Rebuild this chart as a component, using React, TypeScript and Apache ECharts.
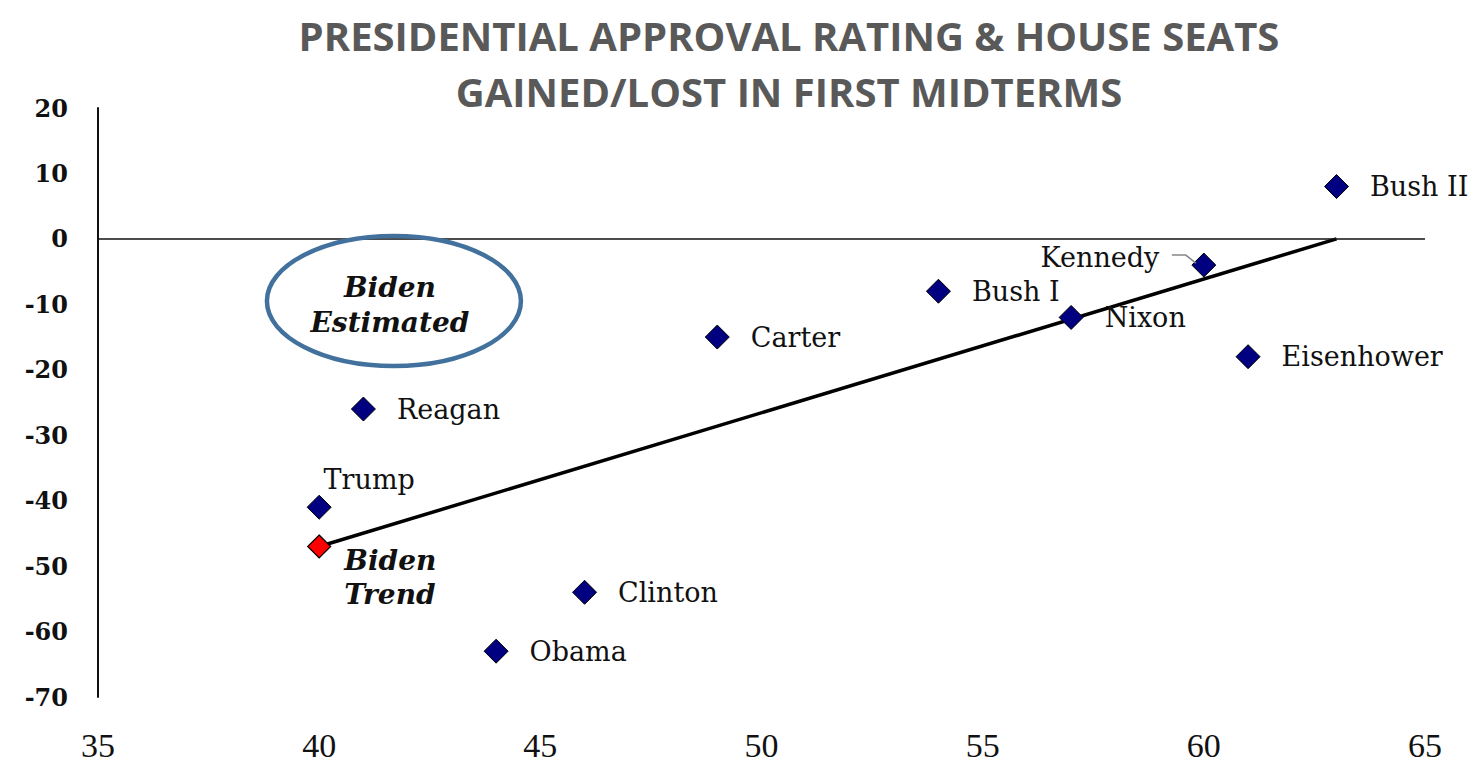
import React, { useEffect, useRef } from "react";
import * as echarts from "echarts";

const titleLines = ["PRESIDENTIAL APPROVAL RATING & HOUSE SEATS", "GAINED/LOST IN FIRST MIDTERMS"];
const presidents = ["Bush II", "Kennedy", "Bush I", "Nixon", "Carter", "Eisenhower", "Reagan", "Trump", "Clinton", "Obama"];
const approvalRating = [63, 60, 54, 57, 49, 61, 41, 40, 46, 44];
const seatsGainedLost = [8, -4, -8, -12, -15, -18, -26, -41, -54, -63];
const bidenTrendPoint = [40, -47];
const trendStart = [40, -47];
const trendEnd = [63, 0];
const bidenEstimatedCenter = [41.69, -9.5];
const xMin = 35, xMax = 65, xStep = 5;
const yMin = -70, yMax = 20, yStep = 10;

const LABEL_FONT = "'DejaVu Serif', Georgia, serif";

export default function App() {
  const ref = useRef<HTMLDivElement>(null);
  useEffect(() => {
    document.body.style.margin = "0";
    if (!ref.current) return;
    const chart = echarts.init(ref.current, null, { renderer: "svg" });
    const labelBase = {
      show: true,
      position: "right",
      distance: 21,
      color: "#111",
      fontFamily: LABEL_FONT,
      fontSize: 27,
      formatter: (p: any) => p.name,
    };
    const data = presidents.map((name, i) => {
      const item: any = { name, value: [approvalRating[i], seatsGainedLost[i]] };
      if (name === "Trump") {
        item.label = { position: "top", distance: 2, offset: [50, 0] };
      } else if (name === "Kennedy") {
        item.label = { position: "left", distance: 32, offset: [0, -8] };
      }
      return item;
    });
    chart.setOption({
      animation: false,
      backgroundColor: "#ffffff",
      title: {
        text: titleLines.join("\n"),
        left: 784,
        textAlign: "center",
        top: 2,
        textStyle: {
          fontFamily: "'Open Sans', sans-serif",
          fontWeight: "bold",
          fontSize: 40,
          lineHeight: 56,
          color: "#595959",
        },
      },
      grid: { left: 98, right: 50, top: 108, bottom: 67, containLabel: false },
      xAxis: {
        type: "value",
        min: xMin,
        max: xMax,
        interval: xStep,
        axisLine: { show: false },
        axisTick: { show: false },
        splitLine: { show: false },
        axisLabel: {
          color: "#111",
          fontFamily: "'Liberation Serif', 'Times New Roman', serif",
          fontSize: 34,
          margin: 31,
        },
      },
      yAxis: {
        type: "value",
        min: yMin,
        max: yMax,
        interval: yStep,
        axisLine: { show: true, onZero: false, lineStyle: { color: "#111", width: 2 } },
        axisTick: { show: false },
        splitLine: { show: false },
        axisLabel: {
          color: "#111",
          fontFamily: LABEL_FONT,
          fontWeight: "bold",
          fontSize: 24,
          margin: 30,
        },
      },
      series: [
        {
          type: "line",
          data: [trendStart, trendEnd],
          symbol: "none",
          lineStyle: { color: "#000", width: 3.5 },
          z: 3,
          markLine: {
            silent: true,
            symbol: "none",
            label: { show: false },
            lineStyle: { color: "#111", width: 1.5, type: "solid" },
            data: [{ yAxis: 0 }],
          },
        },
        {
          type: "scatter",
          symbol: "diamond",
          symbolSize: 24,
          itemStyle: { color: "#000080", borderColor: "#000", borderWidth: 1, opacity: 1 },
          label: labelBase,
          data,
          z: 4,
        },
        {
          type: "scatter",
          symbol: "diamond",
          symbolSize: 23,
          itemStyle: { color: "#ff0000", borderColor: "#000", borderWidth: 1.2, opacity: 1 },
          data: [{ name: "Biden\nTrend", value: bidenTrendPoint }],
          label: {
            show: true,
            position: "right",
            distance: 0,
            offset: [13, 31],
            formatter: "Biden\nTrend",
            color: "#111",
            fontFamily: LABEL_FONT,
            fontStyle: "italic",
            fontWeight: "bold",
            fontSize: 28,
            lineHeight: 34,
            align: "left",
          },
          z: 5,
        },
      ],
    });
    const c = chart.convertToPixel({ gridIndex: 0 }, bidenEstimatedCenter) as number[];
    const k = chart.convertToPixel({ seriesIndex: 1 }, [approvalRating[1], seatsGainedLost[1]]) as number[];
    chart.setOption({
      graphic: [
        {
          type: "ellipse",
          shape: { cx: c[0], cy: c[1], rx: 127, ry: 65 },
          style: { fill: "none", stroke: "#41719C", lineWidth: 4.5 },
          z: 10,
        },
        {
          type: "text",
          x: c[0] - 4,
          y: c[1] + 4,
          style: {
            text: "Biden\nEstimated",
            fill: "#111",
            font: `italic bold 28px ${LABEL_FONT}`,
            lineHeight: 35,
            align: "center",
            verticalAlign: "middle",
          },
          z: 10,
        },
        {
          type: "polyline",
          shape: { points: [[k[0] - 32, k[1] - 10], [k[0] - 18, k[1] - 10], [k[0] - 8, k[1] - 2]] },
          style: { stroke: "#888", lineWidth: 1.5, fill: "none" },
          z: 10,
        },
      ],
    });
    return () => chart.dispose();
  }, []);
  return <div ref={ref} style={{ width: 1475, height: 764 }} />;
}
